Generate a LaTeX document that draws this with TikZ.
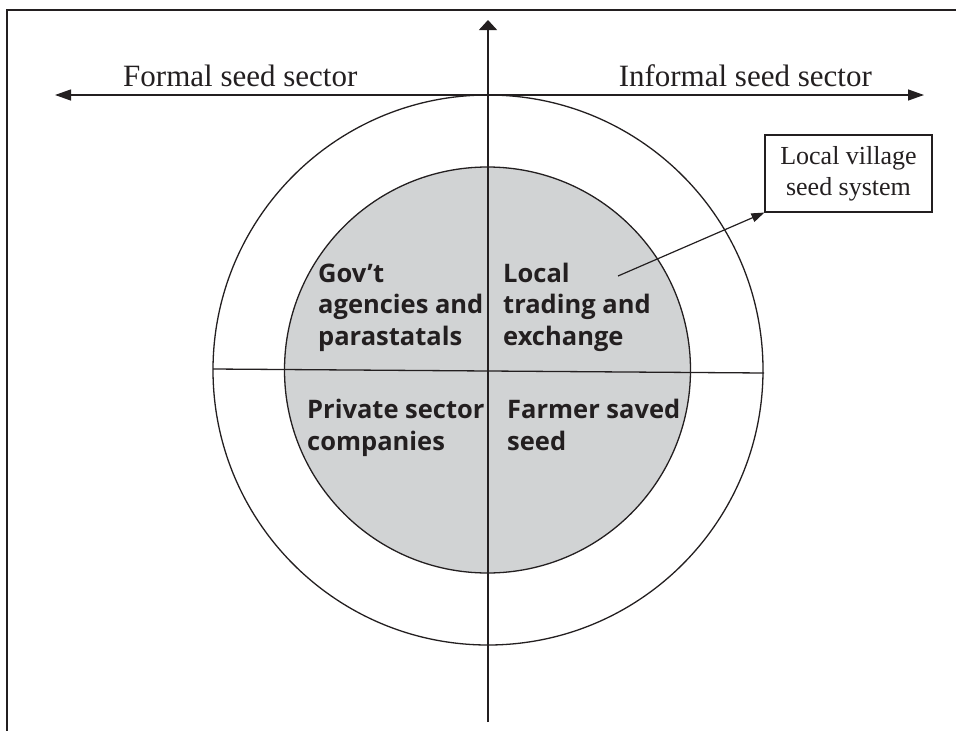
\documentclass[tikz,border=0pt]{standalone}
\usepackage{fontspec}
\setmainfont{Liberation Serif}
\newfontfamily\quadfont{Open Sans}
\usetikzlibrary{arrows.meta}
\definecolor{disc}{RGB}{209,211,212}
\definecolor{ink}{RGB}{35,31,32}
\tikzset{
  rule/.style={draw=ink, line width=1.3pt},
  axislabel/.style={font=\fontsize{31}{36}\selectfont, text=ink, inner sep=0pt},
  quadlabel/.style={font=\quadfont\bfseries\fontsize{25.5}{31.5}\selectfont, text=ink, inner sep=0pt, align=left},
  callout/.style={draw=ink, line width=1.1pt, font=\fontsize{26}{31}\selectfont, text=ink, align=center, minimum width=167pt, minimum height=77pt, inner sep=0pt},
}
\begin{document}
\begin{tikzpicture}[x=1pt,y=-1pt]
\useasboundingbox (0,0) rectangle (956,731);
% frame (cropped)
\draw[draw=ink, line width=1.8pt] (7,731) -- (7,10) -- (956,10);
% circles
\node[circle, rule, minimum size=550pt, inner sep=0pt] (outer) at (488,370) {};
\node[circle, rule, fill=disc, minimum size=406pt, inner sep=0pt] (inner) at (487.5,370) {};
% split line
\coordinate (hl) at (213,369);
\coordinate (hr) at (764,373);
\draw[rule] (hl) -- (hr);
% vertical axis
\coordinate (vb) at (488,722);
\coordinate (vt) at (488,20);
\draw[rule, -{Triangle[length=10pt,width=18pt]}] (vb) -- (vt);
% horizontal axis
\coordinate (al) at (55,95);
\coordinate (ar) at (924,95);
\draw[rule, {Triangle[length=16pt,width=11pt]}-{Triangle[length=16pt,width=11pt]}] (al) -- (ar);
% axis labels
\node[axislabel, anchor=base west] (formal) at (123,86) {Formal seed sector};
\node[axislabel, anchor=base east] (informal) at (872,86) {Informal seed sector};
% quadrant labels (anchor at baseline of last line)
\node[quadlabel, anchor=base west] (gov) at (318,345) {Gov’t\\agencies and\\parastatals};
\node[quadlabel, anchor=base west] (local) at (503,345) {Local\\trading and\\exchange};
\node[quadlabel, anchor=base west] (private) at (307,450) {Private sector\\companies};
\node[quadlabel, anchor=base west] (farmer) at (507,450) {Farmer saved\\seed};
% callout box
\node[callout] (village) at (848.5,173.5) {Local village\\seed system};
\coordinate (ptr) at (618,276);
\draw[draw=ink, line width=1.2pt, -{Triangle[length=13pt,width=9pt]}] (ptr) -- (village.south west);
\end{tikzpicture}
\end{document}
